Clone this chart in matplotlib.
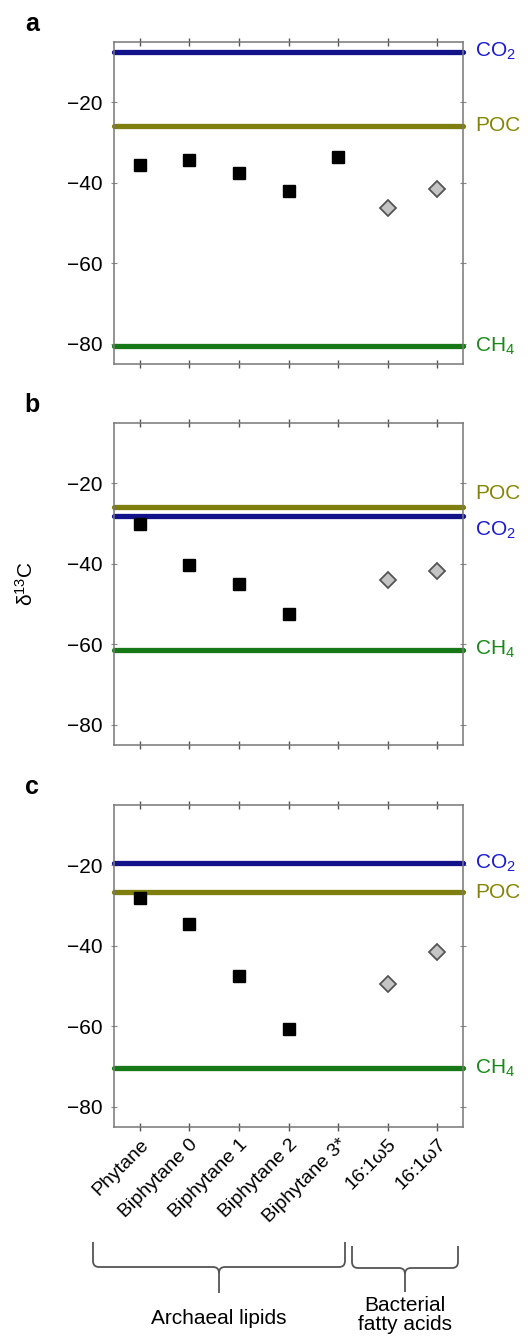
import matplotlib
matplotlib.use("Agg")
import matplotlib.pyplot as plt
import numpy as np
from matplotlib.path import Path
from matplotlib.patches import PathPatch

plt.rcParams['font.family'] = ['Liberation Sans', 'DejaVu Sans']
plt.rcParams['mathtext.default'] = 'regular'

compounds = ["Phytane", "Biphytane 0", "Biphytane 1", "Biphytane 2",
             "Biphytane 3*", "16:1\u03c95", "16:1\u03c97"]
panels = ["a", "b", "c"]

# archaeal lipids (black squares), NaN = not measured
archaeal_a = [-35.5, -34.4, -37.6, -42.1, -33.6]
archaeal_b = [-30.0, -40.2, -45.1, -52.4, np.nan]
archaeal_c = [-28.2, -34.6, -47.4, -60.6, np.nan]
# bacterial fatty acids (grey diamonds)
bacterial_a = [-46.2, -41.6]
bacterial_b = [-44.0, -41.7]
bacterial_c = [-49.4, -41.6]
# reference pools
co2 = [-7.4, -28.1, -19.5]
poc = [-25.8, -25.8, -26.7]
ch4 = [-80.5, -61.3, -70.4]

archaeal = [archaeal_a, archaeal_b, archaeal_c]
bacterial = [bacterial_a, bacterial_b, bacterial_c]

# label nudges (data units) so the text does not collide
label_shift = {"b": {"POC": 3.2, "CO2": -3.5}}

ref_styles = [
    ("CO2", "CO$_2$", co2, "#12128a", "#1a1ad0"),
    ("POC", "POC", poc, "#7f7f10", "#858500"),
    ("CH4", "CH$_4$", ch4, "#167816", "#168a16"),
]

fig = plt.figure(figsize=(5.28, 13.38), dpi=100)
H = 1338.0
W = 528.0
tops = [42, 423, 805]
ax_h = 322
left = 114
ax_w = 349

x = np.arange(len(compounds))
axes = []
for i, p in enumerate(panels):
    ax = fig.add_axes([left / W, 1 - (tops[i] + ax_h) / H, ax_w / W, ax_h / H])
    axes.append(ax)
    for key, lab, vals, lc, tc in ref_styles:
        ax.axhline(vals[i], color=lc, lw=3.8, solid_capstyle='round',
                   clip_on=False, zorder=2)
        ty = vals[i] + label_shift.get(p, {}).get(key, 0)
        ax.text(6.5 + 0.27, ty, lab, color=tc, fontsize=15, va='center',
                ha='left', clip_on=False)
    ax.plot(x[:5], archaeal[i], ls='none', marker='s', ms=8.8,
            mfc='black', mec='black', zorder=3)
    ax.plot(x[5:], bacterial[i], ls='none', marker='D', ms=8.5,
            mfc='#c4c4c4', mec='#555555', mew=1.3, zorder=3)
    ax.set_xlim(-0.52, 6.52)
    ax.set_ylim(-85, -5)
    ax.set_yticks([-20, -40, -60, -80])
    ax.set_yticklabels(["\u221220", "\u221240", "\u221260", "\u221280"])
    ax.set_xticks(x)
    for s in ax.spines.values():
        s.set_color('#777777')
        s.set_linewidth(1.1)
    ax.tick_params(axis='x', direction='inout', length=6, width=1,
                   color='#555555', top=True, bottom=True)
    ax.tick_params(axis='y', direction='inout', length=5, width=0.8,
                   color='#888888', left=True, right=True, labelsize=15, pad=6)
    if i < 2:
        ax.set_xticklabels([])
    else:
        ax.set_xticklabels(compounds, rotation=45, ha='right',
                           rotation_mode='anchor', fontsize=14)
    fig.text(32 / W, 1 - (tops[i] - 18) / H, p, fontsize=18,
             fontweight='bold', ha='center', va='center')

axes[1].set_ylabel("\u03b4$^{13}$C", fontsize=15)
axes[1].yaxis.set_label_coords(-0.22, 0.5)

# group brackets below the bottom panel
ov = fig.add_axes([0, 0, 1, 1])
ov.set_xlim(0, W)
ov.set_ylim(H, 0)
ov.axis('off')


def bracket(x0, x1, ytop, ymid, ytip, r=6):
    xm = (x0 + x1) / 2
    verts = [(x0, ytop), (x0, ymid - r), (x0, ymid), (x0 + r, ymid),
             (xm - r, ymid), (xm, ymid), (xm, ymid + r), (xm, ytip),
             (xm, ymid + r), (xm, ymid), (xm + r, ymid),
             (x1 - r, ymid), (x1, ymid), (x1, ymid - r), (x1, ytop)]
    codes = [Path.MOVETO, Path.LINETO, Path.CURVE3, Path.CURVE3,
             Path.LINETO, Path.CURVE3, Path.CURVE3, Path.LINETO,
             Path.MOVETO, Path.CURVE3, Path.CURVE3,
             Path.LINETO, Path.CURVE3, Path.CURVE3, Path.LINETO]
    ov.add_patch(PathPatch(Path(verts, codes), fill=False,
                           ec='#555555', lw=1.3))
    return xm


xa = bracket(93, 345, 1242, 1267, 1293)
xb = bracket(352, 458, 1246, 1268, 1292)
ov.text(xa, 1318, "Archaeal lipids", fontsize=15, ha='center', va='center')
ov.text(xb, 1296, "Bacterial\nfatty acids", fontsize=15, ha='center',
        va='top', linespacing=1.0)

fig.savefig("out.png", dpi=100)
